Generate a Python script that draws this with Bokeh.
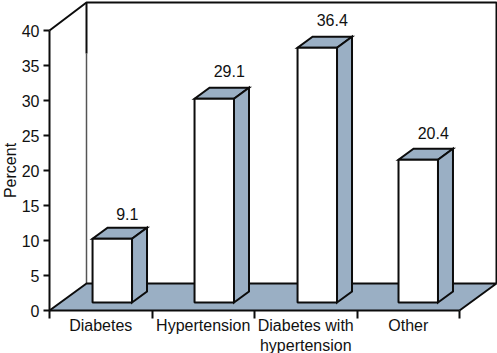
from bokeh.plotting import figure
from bokeh.embed import file_html
from bokeh.resources import INLINE
from bokeh.models import FixedTicker, Range1d
from bokeh.core.properties import value

categories = ["Diabetes", "Hypertension", "Diabetes with\nhypertension", "Other"]
percent = [9.1, 29.1, 36.4, 20.4]
labels = ["9.1", "29.1", "36.4", "20.4"]
y_ticks = [0, 5, 10, 15, 20, 25, 30, 35, 40]

FONT = "Liberation Sans"
FS = "16px"
FLOOR = "#9aafc4"
INK = "#0c0c0c"
TXT = "#111111"

MARGIN = 8      # page margin pulled back with a negative CSS margin
W, H = 497 + MARGIN, 353 + MARGIN
LEFT, BOTTOM = 49 + MARGIN, 43
PX_X = 102.5   # pixels per category
PX_Y = 7.0     # pixels per percent

p = figure(width=W, height=H, output_backend="svg", toolbar_location=None,
           x_range=Range1d(-LEFT / PX_X, (W - LEFT) / PX_X),
           y_range=Range1d(-BOTTOM / PX_Y, (H - BOTTOM) / PX_Y),
           min_border_left=0, min_border_bottom=0, min_border_right=0, min_border_top=0,
           outline_line_color=None, background_fill_color="white", border_fill_color="white")
p.styles = {"margin-left": f"-{MARGIN}px", "margin-top": f"-{MARGIN}px"}
p.grid.visible = False

# box geometry (data units)
dx_wall = 37 / PX_X
dy_wall = 27 / PX_Y
top_wall = 308 / PX_Y
wall_split = 257 / PX_Y
right_wall = (496 - 49) / PX_X
n = len(categories)

# floor
p.patch([0, n, right_wall, dx_wall], [0, 0, dy_wall, dy_wall], fill_color=FLOOR, line_color=None)
# walls
p.line([dx_wall, dx_wall], [dy_wall, wall_split], line_color="#555555", line_width=1.5)
p.line([dx_wall, dx_wall], [wall_split, top_wall], line_color=INK, line_width=2)
p.line([0, dx_wall, right_wall, right_wall], [40, top_wall, top_wall, dy_wall], line_color=INK, line_width=2)
# floor edges
p.line([0, dx_wall, right_wall, n], [0, dy_wall, dy_wall, 0], line_color=INK, line_width=2)

# bars
bar_left_off = [0.42, 0.415, 0.42, 0.405]
label_lift = [8, 11, 11, 10]
bar_w = 0.385
base = 8 / PX_Y
ddx = 15 / PX_X
ddy = 11 / PX_Y
for i, v in enumerate(percent):
    x0 = i + bar_left_off[i]
    x1 = x0 + bar_w
    y1 = base + v
    p.patch([x0, x1, x1 + ddx, x0 + ddx], [y1, y1, y1 + ddy, y1 + ddy],
            fill_color=FLOOR, line_color=INK, line_width=2, line_join="miter")
    p.patch([x1, x1 + ddx, x1 + ddx, x1], [base, base + ddy, y1 + ddy, y1],
            fill_color=FLOOR, line_color=INK, line_width=2, line_join="miter")
    p.quad(left=x0, right=x1, bottom=base, top=y1, fill_color="white", line_color=INK, line_width=2)
    p.text([x0 + bar_w / 2 + ddx], [y1 + ddy], text=[labels[i]], text_align="center",
           text_baseline="bottom", y_offset=-label_lift[i], text_font=value(FONT), text_font_size=value(FS),
           text_color=TXT)

# axes, fixed at the zero lines so that they take no border space
xa = p.xaxis[0]
xa.fixed_location = 0
xa.ticker = FixedTicker(ticks=[i + 0.5 for i in range(n)], minor_ticks=list(range(n + 1)))
xa.major_label_overrides = {i + 0.5: c for i, c in enumerate(categories)}
xa.bounds = (0, n)
xa.major_tick_line_color = None
xa.major_tick_in = 0
xa.major_tick_out = 0
xa.minor_tick_in = 0
xa.minor_tick_out = 8
xa.minor_tick_line_width = 2
xa.minor_tick_line_color = INK
xa.axis_line_color = INK
xa.axis_line_width = 2
xa.major_label_standoff = -2
xa.major_label_text_font = FONT
xa.major_label_text_font_size = FS
xa.major_label_text_color = TXT

ya = p.yaxis[0]
ya.fixed_location = 0
ya.ticker = FixedTicker(ticks=y_ticks)
ya.minor_tick_line_color = None
ya.bounds = (0, 40)
ya.major_tick_in = 0
ya.major_tick_out = 6
ya.major_tick_line_width = 2
ya.major_tick_line_color = INK
ya.axis_line_color = INK
ya.axis_line_width = 2
ya.major_label_standoff = 4
ya.major_label_text_font = FONT
ya.major_label_text_font_size = FS
ya.major_label_text_color = TXT
ya.axis_label = "Percent"
ya.axis_label_text_font = FONT
ya.axis_label_text_font_size = FS
ya.axis_label_text_font_style = "normal"
ya.axis_label_text_color = TXT
ya.axis_label_standoff = 0

open("out.html", "w").write(file_html(p, INLINE))
